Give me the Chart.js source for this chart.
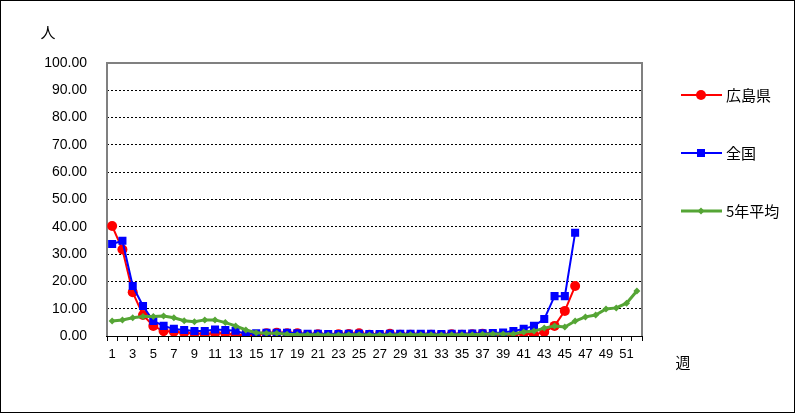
<!DOCTYPE html>
<html><head><meta charset="utf-8">
<script src="https://cdn.jsdelivr.net/npm/chart.js@4/dist/chart.umd.min.js"></script>
<style>html,body{margin:0;padding:0;background:#fff}#wrap{width:795px;height:413px;position:relative}</style>
</head><body><div id="wrap"><canvas id="c" width="795" height="413"></canvas></div>
<script>
const weeks = ['1','2','3','4','5','6','7','8','9','10','11','12','13','14','15','16','17','18','19','20','21','22','23','24','25','26','27','28','29','30','31','32','33','34','35','36','37','38','39','40','41','42','43','44','45','46','47','48','49','50','51','52'];
const seriesNames = ['広島県', '全国', '5年平均'];
const hiroshima = [40.3,31.7,16.0,7.7,3.7,1.8,1.6,1.2,1.0,0.7,1.0,1.0,0.4,0.4,0.4,1.0,1.2,1.0,1.0,0.4,0.6,0.3,0.6,0.7,1.0,0.5,0.4,0.8,0.5,0.5,0.4,0.5,0.4,0.6,0.5,0.6,0.8,0.5,0.3,0.4,1.0,0.4,1.5,3.7,9.2,18.3,null,null,null,null,null,null];
const zenkoku = [33.7,34.9,18.3,11.0,5.5,3.7,2.6,2.2,1.8,1.8,2.4,2.2,1.9,0.7,1.0,1.2,1.2,1.2,1.0,0.8,0.8,0.7,0.7,0.8,0.8,0.7,0.7,0.8,0.8,0.8,0.8,0.8,0.7,0.8,0.8,0.9,1.0,1.1,1.3,1.8,2.6,3.7,6.2,14.6,14.6,37.8,null,null,null,null,null,null];
const avg5 = [5.5,5.9,6.7,7.1,7.1,7.3,6.7,5.6,5.2,5.9,5.9,4.9,3.7,2.2,1.2,1.0,1.0,0.6,0.5,0.5,0.5,0.4,0.4,0.5,0.5,0.4,0.4,0.4,0.5,0.5,0.5,0.5,0.4,0.5,0.5,0.5,0.6,0.7,0.7,0.7,1.5,1.8,2.9,3.7,3.3,5.5,7.0,7.7,9.9,10.3,12.0,16.5];
const yTicks = [0,10,20,30,40,50,60,70,80,90,100];
const yUnit = '人';
const xUnit = '週';

const colors = ['#FF0000', '#0000FF', '#55A535'];
const styles = [
  {pointStyle:'circle', radius:5, width:2},
  {pointStyle:'rect', radius:5.7, width:2},
  {pointStyle:'rectRot', radius:3.5, width:3}
];

function drawMarker(ctx, style, x, y, color) {
  ctx.save();
  ctx.fillStyle = color;
  ctx.beginPath();
  const r = style.radius;
  if (style.pointStyle === 'circle') {
    ctx.arc(x, y, r, 0, Math.PI * 2);
  } else if (style.pointStyle === 'rect') {
    const s = Math.SQRT1_2 * r;
    ctx.rect(x - s, y - s, 2 * s, 2 * s);
  } else {
    ctx.moveTo(x, y - r); ctx.lineTo(x + r, y); ctx.lineTo(x, y + r); ctx.lineTo(x - r, y); ctx.closePath();
  }
  ctx.fill();
  ctx.restore();
}

const decor = {
  id: 'decor',
  beforeDatasetsDraw(chart) {
    const {ctx, chartArea: a} = chart;
    ctx.save();
    ctx.strokeStyle = '#808080';
    ctx.lineWidth = 2;
    ctx.beginPath();
    ctx.moveTo(a.left, a.bottom);
    ctx.lineTo(a.left, a.top);
    ctx.lineTo(a.right, a.top);
    ctx.lineTo(a.right, a.bottom);
    ctx.stroke();
    ctx.strokeStyle = '#000';
    ctx.lineWidth = 1;
    ctx.beginPath();
    ctx.moveTo(a.left - 1, a.bottom + 0.5);
    ctx.lineTo(a.right + 1, a.bottom + 0.5);
    ctx.stroke();
    ctx.restore();
  },
  afterDraw(chart) {
    const ctx = chart.ctx;
    ctx.save();
    ctx.strokeStyle = '#000';
    ctx.lineWidth = 1;
    ctx.strokeRect(0.5, 0.5, 794, 412);
    ctx.fillStyle = '#000';
    ctx.font = '15px "Noto Sans CJK JP"';
    ctx.textAlign = 'center';
    ctx.textBaseline = 'middle';
    ctx.fillText(yUnit, 48, 32);
    ctx.fillText(xUnit, 683, 362);
    // legend
    const ys = [95, 153, 211];
    ctx.font = '15px "Noto Sans CJK JP"';
    ctx.textAlign = 'left';
    seriesNames.forEach((n, i) => {
      const y = ys[i];
      ctx.strokeStyle = colors[i];
      ctx.lineWidth = styles[i].width;
      ctx.beginPath();
      ctx.moveTo(681, y);
      ctx.lineTo(722, y);
      ctx.stroke();
      drawMarker(ctx, styles[i], 701, y, colors[i]);
      ctx.fillStyle = '#000';
      ctx.fillText(n, 726, y);
    });
    ctx.restore();
  }
};

const dataSeries = [hiroshima, zenkoku, avg5];
new Chart(document.getElementById('c'), {
  type: 'line',
  data: {
    labels: weeks,
    datasets: dataSeries.map((d, i) => ({
      label: seriesNames[i],
      data: d,
      borderColor: colors[i],
      backgroundColor: colors[i],
      borderWidth: styles[i].width,
      pointStyle: styles[i].pointStyle,
      pointRadius: styles[i].radius,
      pointBorderWidth: 0,
      pointBackgroundColor: colors[i],
      tension: 0,
      spanGaps: false,
      order: 2 - i
    }))
  },
  options: {
    responsive: false,
    animation: false,
    devicePixelRatio: 1,
    layout: {padding: {left: 0, top: 63, right: 153, bottom: 0}},
    plugins: {legend: {display: false}, tooltip: {enabled: false}},
    scales: {
      x: {
        type: 'category',
        offset: true,
        afterFit(s) { s.height = 77; },
        grid: {display: true, drawOnChartArea: false, drawTicks: true, tickLength: 5, color: '#000', offset: true},
        border: {display: false},
        ticks: {
          autoSkip: false, maxRotation: 0, minRotation: 0, padding: 6, color: '#000',
          font: {family: '"Liberation Sans", Arial, sans-serif', size: 13},
          callback(v, idx) { return idx % 2 === 0 ? weeks[idx] : ''; }
        }
      },
      y: {
        min: yTicks[0], max: yTicks[yTicks.length - 1],
        afterFit(s) { s.width = 107; },
        afterBuildTicks(s) { s.ticks = yTicks.map(v => ({value: v})); },
        grid: {color: '#000', lineWidth: 1, drawTicks: false},
        border: {display: false, dash: [2, 2]},
        ticks: {
          padding: 20, color: '#000',
          font: {family: '"Liberation Sans", Arial, sans-serif', size: 14},
          callback(v) { return Number(v).toFixed(2); }
        }
      }
    }
  },
  plugins: [decor]
});
</script>
</body></html>
